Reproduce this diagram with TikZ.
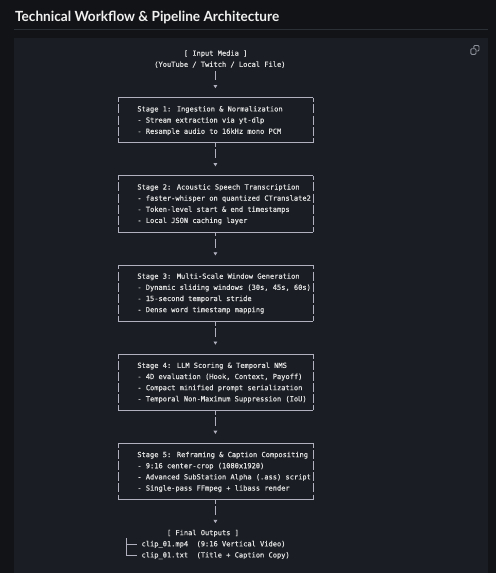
\documentclass[tikz,border=0pt]{standalone}
\usepackage{fontspec}
\usepackage{graphicx}
\usetikzlibrary{arrows.meta}
\newfontfamily\mymono{DejaVu Sans Mono}[FakeBold=0.6]
\newfontfamily\mytitle{Lato}
\definecolor{bgc}{HTML}{111317}
\definecolor{panelc}{HTML}{1A1D23}
\definecolor{rulec}{HTML}{2B2F36}
\definecolor{titlec}{HTML}{F0F0F0}
\definecolor{txtc}{HTML}{E0E0E0}
\definecolor{linec}{HTML}{B0B0BE}
\definecolor{iconc}{HTML}{8C9099}
\tikzset{
  boxline/.style={draw=linec, line width=0.75pt},
  sidebar/.style={draw=linec, line width=0.75pt, dash pattern=on 9pt off 2.15pt, dash phase=4.5pt},
  stagebox/.style={draw=none, minimum width=194.6pt, inner sep=0pt},
  mono/.style={font=\mymono\fontsize{7.03pt}{11.15pt}\selectfont, text=txtc, inner sep=0pt, align=left},
  line1/.style={mono, text height=6pt, text depth=1.2pt},
  flow/.style={draw=linec, line width=0.75pt, dash pattern=on 4.5pt off 2.15pt on 9pt off 40pt, shorten >=9.45pt, -{Triangle[width=3.6pt,length=3.2pt]}},
  tree/.style={draw=linec, line width=0.75pt},
}
\newcommand\mkbox[1]{%
  \draw[boxline] (#1.north west) -- (#1.north east);
  \draw[boxline] (#1.south west) -- (#1.south east);
  \draw[sidebar] (#1.north west) -- (#1.south west);
  \draw[sidebar] (#1.north east) -- (#1.south east);}
\begin{document}
\begin{tikzpicture}[x=1pt,y=-1pt]
\useasboundingbox (0,0) rectangle (496,573);
\fill[bgc] (0,0) rectangle (496,573);
\fill[panelc] (14,38) rectangle (488,573);
\draw[rulec, line width=0.8pt] (14,29) -- (488,29);
\node[anchor=base west, inner sep=0pt, text=titlec, font=\mytitle\bfseries\fontsize{14pt}{16pt}\selectfont] (title) at (15,21) {\resizebox{264pt}{\height}{Technical Workflow \& Pipeline Architecture}};
% copy icon
\draw[iconc, line width=0.9pt, rounded corners=1pt] (473.8,45.5) rectangle (479,51);
\filldraw[iconc, fill=panelc, line width=0.9pt, rounded corners=1pt] (470.8,48.7) rectangle (476,54.3);
% input
\node[line1, anchor=base west] (inA) at (183.68,55.7) {[ Input Media ]};
\node[line1, anchor=base west] (inB) at (154.07,66.85) {(YouTube / Twitch / Local File)};
% stages (base anchor = baseline of last line)
\node[stagebox, minimum height=44.6pt] (s1) at (215.4,120.2) {};
\node[mono, anchor=base west] (s1t) at (137.15,133.75) {Stage 1: Ingestion \& Normalization\\- Stream extraction via yt-dlp\\- Resample audio to 16kHz mono PCM};
\node[stagebox, minimum height=55.75pt] (s2) at (215.4,203.825) {};
\node[mono, anchor=base west] (s2t) at (137.15,222.95) {Stage 2: Acoustic Speech Transcription\\- faster-whisper on quantized CTranslate2\\- Token-level start \& end timestamps\\- Local JSON caching layer};
\node[stagebox, minimum height=55.75pt] (s3) at (215.4,293.025) {};
\node[mono, anchor=base west] (s3t) at (137.15,312.15) {Stage 3: Multi-Scale Window Generation\\- Dynamic sliding windows (30s, 45s, 60s)\\- 15-second temporal stride\\- Dense word timestamp mapping};
\node[stagebox, minimum height=55.75pt] (s4) at (215.4,382.225) {};
\node[mono, anchor=base west] (s4t) at (137.15,401.35) {Stage 4: LLM Scoring \& Temporal NMS\\- 4D evaluation (Hook, Context, Payoff)\\- Compact minified prompt serialization\\- Temporal Non-Maximum Suppression (IoU)};
\node[stagebox, minimum height=55.75pt] (s5) at (215.4,471.425) {};
\node[mono, anchor=base west] (s5t) at (137.15,490.55) {Stage 5: Reframing \& Caption Compositing\\- 9:16 center-crop (1080x1920)\\- Advanced SubStation Alpha (.ass) script\\- Single-pass FFmpeg + libass render};
\mkbox{s1}\mkbox{s2}\mkbox{s3}\mkbox{s4}\mkbox{s5}
% outputs
\node[line1, anchor=base west] (out) at (166.76,535.15) {[ Final Outputs ]};
\node[line1, anchor=base west] (mp4) at (141.38,546.3) {clip\_01.mp4\hspace{8.46pt}(9:16 Vertical Video)};
\node[line1, anchor=base west] (txt) at (141.38,557.45) {clip\_01.txt\hspace{8.46pt}(Title + Caption Copy)};
% connectors
\draw[flow, dash pattern=on 9pt off 40pt, shorten <=3.05pt] (inB.south -| s1.north) -- (s1.north);
\draw[flow] (s1.south) -- (s2.north);
\draw[flow] (s2.south) -- (s3.north);
\draw[flow] (s3.south) -- (s4.north);
\draw[flow] (s4.south) -- (s5.north);
\draw[flow, shorten >=5.85pt] (s5.south) -- (s5.south |- out.north);
\coordinate (trtop) at (126.6,538.3);
\draw[tree] (trtop) |- ([xshift=-4.23pt]mp4.west);
\draw[tree] (trtop) |- ([xshift=-4.23pt]txt.west);
\end{tikzpicture}
\end{document}
